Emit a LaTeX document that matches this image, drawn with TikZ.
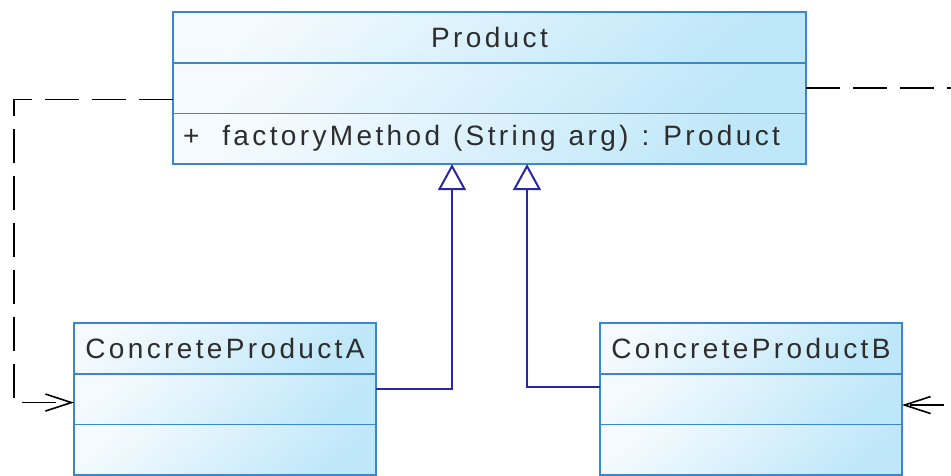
\documentclass[tikz,border=0pt]{standalone}
\usepackage{fontspec}
\setmainfont{Liberation Sans}[LetterSpace=12]
\usetikzlibrary{arrows.meta, positioning}

\definecolor{umlborder}{RGB}{58,135,205}
\definecolor{umltop}{RGB}{244,250,254}
\definecolor{umlbottom}{RGB}{190,231,249}
\definecolor{genblue}{RGB}{40,40,165}
\definecolor{umltext}{RGB}{45,45,45}

\begin{document}
\begin{tikzpicture}[x=1pt, y=-1pt,
    compart/.style={draw=umlborder, line width=1.8pt, top color=umltop, bottom color=umlbottom,
      shading angle=40, minimum height=50.7pt, outer sep=0pt, inner sep=0pt,
      text=umltext, font=\fontsize{28}{32}\selectfont},
    inherit/.style={genblue, line width=2pt, -{Triangle[open, length=26pt, width=28pt, fill=white]}},
    depend/.style={black, line width=1.6pt, dash pattern=on 34pt off 13pt,
      -{Straight Barb[length=26pt, width=17pt]}}]
    \useasboundingbox (0,0) rectangle (951,475);
    \clip (0,0) rectangle (951,475);

    \node[compart, minimum width=633pt, anchor=north west] (prod) at (173,12) {Product};
    \node[compart, minimum width=633pt, anchor=north] (prodattr) at (prod.south) {};
    \node[compart, minimum width=633pt, anchor=north, text width=613pt, align=left] (prodop) at (prodattr.south)
      {\spaceskip=13pt +\hspace{23pt}factoryMethod (String arg) : Product};

    \node[compart, minimum width=302pt, anchor=north west] (ca) at (74,323) {ConcreteProductA};
    \node[compart, minimum width=302pt, anchor=north] (caattr) at (ca.south) {};
    \node[compart, minimum width=302pt, anchor=north] (caop) at (caattr.south) {};

    \node[compart, minimum width=302pt, anchor=north west] (cb) at (600,323) {ConcreteProductB};
    \node[compart, minimum width=302pt, anchor=north] (cbattr) at (cb.south) {};
    \node[compart, minimum width=302pt, anchor=north] (cbop) at (cbattr.south) {};

    \draw[inherit] ([yshift=10pt]caattr.east) -| ([xshift=-37.5pt]prodop.south);
    \draw[inherit] ([yshift=12pt]cbattr.west) -| ([xshift=37.5pt]prodop.south);

    \coordinate (lturn) at (14,250);
    \coordinate (rturn) at (975,250);
    \draw[depend] ([yshift=-11.5pt]prodattr.west) -| (lturn) |- ([yshift=-3.5pt]caattr.west);
    \draw[depend] (prodattr.east) -| (rturn) |- ([yshift=-6pt]cbattr.east);
\end{tikzpicture}
\end{document}
